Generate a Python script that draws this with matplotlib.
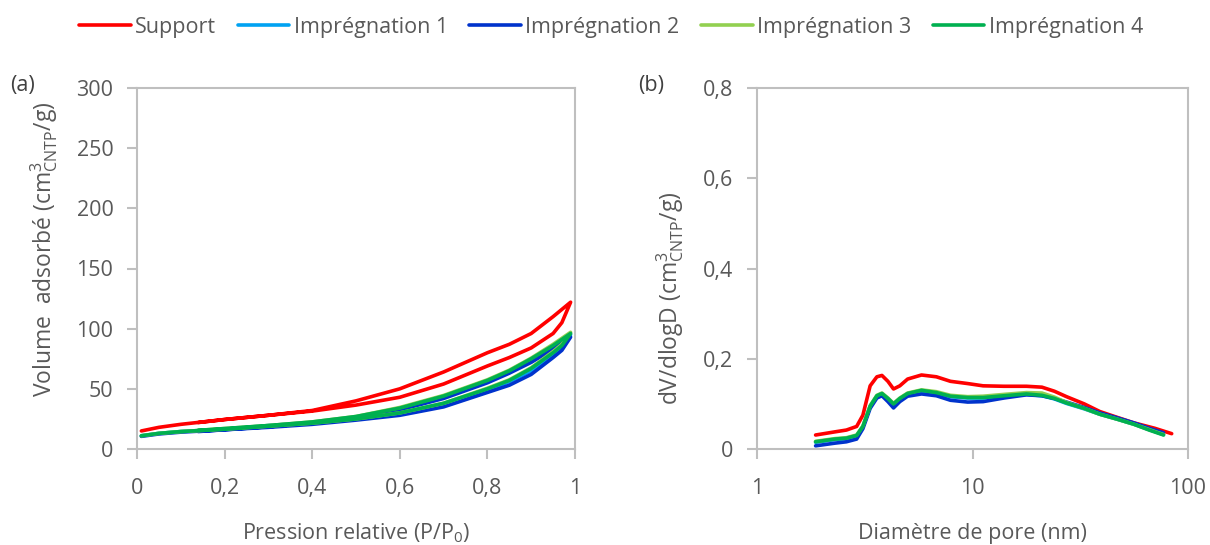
import matplotlib
matplotlib.use("Agg")
import matplotlib.pyplot as plt
from matplotlib.ticker import FixedLocator, FuncFormatter

plt.rcParams['font.family'] = ['Open Sans', 'DejaVu Sans']
plt.rcParams['mathtext.fontset'] = 'custom'
plt.rcParams['mathtext.rm'] = 'Open Sans'
plt.rcParams['mathtext.it'] = 'Open Sans:italic'

names = ["Support", "Imprégnation 1", "Imprégnation 2", "Imprégnation 3", "Imprégnation 4"]
colors = ["#ff0000", "#00a2f2", "#0033cc", "#92d050", "#00b050"]

# (a) isotherms: adsorption branch then desorption branch
p_ads = [0.01, 0.05, 0.1, 0.2, 0.3, 0.4, 0.5, 0.6, 0.7, 0.8, 0.85, 0.9, 0.95, 0.97, 0.99]
p_des = [0.99, 0.95, 0.9, 0.85, 0.8, 0.7, 0.6, 0.5, 0.4, 0.3, 0.2, 0.14]

ads_support = [15, 18, 20.5, 24.5, 28, 31.5, 36.5, 43, 54, 69, 76, 84, 96, 105, 122]
des_support = [122, 110, 96, 87, 80, 64, 50, 40, 32, 28, 24.5, 22]
ads_impr1 = [11, 13, 14.5, 16.5, 19, 21.5, 25, 29.5, 37, 49, 56, 65, 79, 85, 95]
des_impr1 = [95, 85, 74, 64.5, 56, 43.5, 33.5, 26.5, 22, 19.5, 16.5, 15]
ads_impr2 = [10.5, 12.5, 14, 16, 18, 20.5, 24, 28, 35, 47, 53, 62, 76, 82, 93]
des_impr2 = [93, 83, 72, 63, 55, 42, 32.5, 26, 21.5, 18.5, 16, 14.5]
ads_impr3 = [11, 13, 14.5, 16.5, 19, 21.5, 25, 30, 38, 50.5, 57.5, 67.5, 81, 87, 97]
des_impr3 = [97, 87, 75.5, 65.5, 57.5, 44.5, 34.5, 27, 22.5, 19.5, 17, 15.5]
ads_impr4 = [11, 13, 14.5, 16.5, 19, 21.5, 25, 30, 38, 50, 57, 67, 80, 86, 96]
des_impr4 = [96, 86, 75, 65, 57, 44, 34, 27, 22.5, 19.5, 17, 15.5]

# (b) pore size distributions
d_support = [1.87, 2.3, 2.6, 2.9, 3.1, 3.35, 3.6, 3.8, 4.05, 4.3, 4.6, 5.0, 5.8, 6.8,
             7.9, 9.5, 11.2, 14, 17.8, 21, 24, 27.3, 33, 39, 47, 56, 70, 84]
d_impr = [1.87, 2.3, 2.6, 2.9, 3.1, 3.35, 3.6, 3.8, 4.05, 4.3, 4.6, 5.0, 5.8, 6.8,
          7.9, 9.5, 11.2, 14, 17.8, 21, 24, 27.3, 33, 39, 47, 56, 66, 77]
psd_support = [0.031, 0.038, 0.042, 0.050, 0.075, 0.140, 0.160, 0.163, 0.150, 0.133, 0.140, 0.155, 0.164, 0.160,
               0.150, 0.145, 0.140, 0.139, 0.139, 0.137, 0.128, 0.116, 0.100, 0.083, 0.070, 0.058, 0.046, 0.034]
psd_impr1 = [0.015, 0.021, 0.023, 0.029, 0.049, 0.094, 0.117, 0.122, 0.111, 0.099, 0.111, 0.122, 0.129, 0.124,
             0.116, 0.113, 0.113, 0.117, 0.121, 0.118, 0.111, 0.101, 0.089, 0.077, 0.066, 0.055, 0.043, 0.032]
psd_impr2 = [0.007, 0.013, 0.016, 0.022, 0.045, 0.090, 0.113, 0.118, 0.105, 0.091, 0.105, 0.117, 0.122, 0.118,
             0.108, 0.104, 0.105, 0.113, 0.120, 0.118, 0.112, 0.104, 0.092, 0.080, 0.069, 0.058, 0.046, 0.036]
psd_impr3 = [0.017, 0.023, 0.025, 0.031, 0.051, 0.096, 0.119, 0.124, 0.113, 0.101, 0.113, 0.124, 0.131, 0.127,
             0.119, 0.116, 0.117, 0.121, 0.125, 0.124, 0.115, 0.103, 0.090, 0.077, 0.066, 0.055, 0.043, 0.032]
psd_impr4 = [0.016, 0.022, 0.024, 0.030, 0.050, 0.095, 0.118, 0.123, 0.112, 0.100, 0.112, 0.123, 0.130, 0.125,
             0.117, 0.114, 0.114, 0.118, 0.122, 0.119, 0.112, 0.102, 0.090, 0.077, 0.066, 0.055, 0.042, 0.031]

ads = [ads_support, ads_impr1, ads_impr2, ads_impr3, ads_impr4]
des = [des_support, des_impr1, des_impr2, des_impr3, des_impr4]
psd = [psd_support, psd_impr1, psd_impr2, psd_impr3, psd_impr4]
dd = [d_support, d_impr, d_impr, d_impr, d_impr]

grey = "#bfbfbf"
txt = "#595959"
fs = 15.5

fig = plt.figure(figsize=(12.1, 5.45), dpi=100)
ax1 = fig.add_axes([137 / 1210, 1 - 449 / 545, 438 / 1210, 361 / 545])
ax2 = fig.add_axes([757 / 1210, 1 - 449 / 545, 431 / 1210, 361 / 545])

lines = []
for name, c, a, d in zip(names, colors, ads, des):
    ln, = ax1.plot(p_ads + p_des, a + d, color=c, lw=2.6, label=name, solid_capstyle='round')
    lines.append(ln)

for c, x, y in zip(colors, dd, psd):
    ax2.plot(x, y, color=c, lw=2.6, solid_capstyle='round')

comma = FuncFormatter(lambda v, pos: ("%g" % v).replace(".", ","))

ax1.set_xlim(0, 1)
ax1.set_ylim(0, 300)
ax1.set_xticks([0, 0.2, 0.4, 0.6, 0.8, 1])
ax1.set_yticks(range(0, 301, 50))
ax1.xaxis.set_major_formatter(comma)
ax1.set_xlabel(r"Pression relative (P/P$_0$)", fontsize=fs, color=txt, va='center')
ax1.set_ylabel(r"Volume  adsorbé (cm$^3_{\mathrm{CNTP}}$/g)", fontsize=16.5, color=txt)
ax1.xaxis.set_label_coords(0.5, (449 - 533) / 361)
ax1.yaxis.set_label_coords(-0.176, (449 - 249) / 361)

ax2.set_xscale("log")
ax2.set_xlim(1, 100)
ax2.set_ylim(0, 0.8)
ax2.xaxis.set_major_locator(FixedLocator([1, 10, 100]))
ax2.xaxis.set_minor_locator(FixedLocator([]))
ax2.xaxis.set_major_formatter(FuncFormatter(lambda v, pos: "%d" % v))
ax2.set_yticks([0, 0.2, 0.4, 0.6, 0.8])
ax2.yaxis.set_major_formatter(comma)
ax2.set_xlabel("Diamètre de pore (nm)", fontsize=fs, color=txt, va='center')
ax2.set_ylabel(r"dV/dlogD (cm$^3_{\mathrm{CNTP}}$/g)", fontsize=16.5, color=txt)
ax2.xaxis.set_label_coords(0.5, (449 - 533) / 361)
ax2.yaxis.set_label_coords(-0.165, (449 - 298) / 361)

for ax in (ax1, ax2):
    for s in ax.spines.values():
        s.set_color(grey)
        s.set_linewidth(1.5)
    ax.tick_params(which='both', direction='out', color=grey, width=1.5, length=7,
                   labelsize=fs, labelcolor=txt, pad=10)
    ax.tick_params(axis='x', pad=14)

fig.text(10 / 1210, 1 - 85 / 545, "(a)", fontsize=fs, color="#404040", va='center')
fig.text(638 / 1210, 1 - 85 / 545, "(b)", fontsize=fs, color="#404040", va='center')

fig.legend(handles=lines, loc='center', bbox_to_anchor=(611 / 1210, 1 - 27 / 545), ncol=5,
           frameon=False, fontsize=fs, labelcolor=txt, handlelength=2.4, handletextpad=0.2,
           columnspacing=1.0)

fig.savefig("out.png", dpi=100)
